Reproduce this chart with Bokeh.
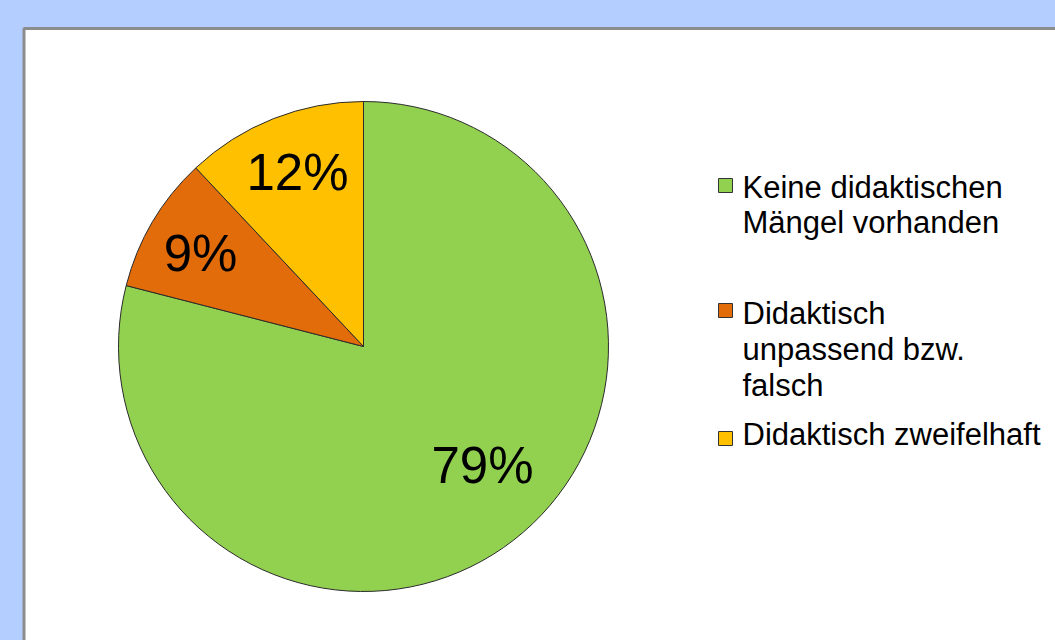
import math
from bokeh.plotting import figure
from bokeh.models import Range1d
from bokeh.core.properties import value
from bokeh.embed import file_html
from bokeh.resources import INLINE

# ---- data ----
categories = ["Keine didaktischen Mängel vorhanden",
              "Didaktisch unpassend bzw. falsch",
              "Didaktisch zweifelhaft"]
legend_lines = [["Keine didaktischen", "Mängel vorhanden"],
                ["Didaktisch", "unpassend bzw.", "falsch"],
                ["Didaktisch zweifelhaft"]]
shares = [79, 9, 12]
labels = ["79%", "9%", "12%"]
colors = ["#92D050", "#E26B0A", "#FFC000"]

W, H = 1055, 640
p = figure(width=W, height=H, output_backend="svg", toolbar_location=None,
           x_range=Range1d(0, W), y_range=Range1d(0, H),
           min_border=0, outline_line_color=None,
           background_fill_color="#B3CEFF", border_fill_color="#B3CEFF")
p.axis.visible = False
p.grid.visible = False

def Y(py):
    return H - py

# white chart panel with grey border
p.quad(left=[23.5], right=[1080], top=[Y(28)], bottom=[Y(680)],
       fill_color="white", line_color="#8C8C8C", line_width=3)

# pie
cx, cy, R = 363, Y(346), 245
total = sum(shares)
start = 90.0
starts, ends = [], []
for s in shares:
    end = start
    start = start - s / total * 360.0
    starts.append(math.radians(start))
    ends.append(math.radians(end))
p.wedge(x=[cx] * 3, y=[cy] * 3, radius=R, start_angle=starts, end_angle=ends,
        fill_color=colors, line_color="#2B2B2B", line_width=1)

# data labels
lx = [482, 200, 297]
lb = [465, 253, 172]
p.text(x=lx, y=[Y(v) for v in lb], text=labels, text_align="center",
       text_baseline="alphabetic", text_font=value("Liberation Sans"),
       text_font_size="51px", text_color="black")

# legend
sq_y = [185, 310, 438]
p.rect(x=[725] * 3, y=[Y(v) for v in sq_y], width=14, height=14,
       fill_color=colors, line_color="#333333", line_width=1)
baselines = [[187, 222], [313, 349, 385], [434]]
tx, ty, tt = [], [], []
for lines, bls in zip(legend_lines, baselines):
    for t, b in zip(lines, bls):
        tx.append(742)
        ty.append(Y(b))
        tt.append(t)
p.text(x=tx, y=ty, text=tt, text_align="left", text_baseline="alphabetic",
       text_font=value("Liberation Sans"), text_font_size="31px",
       text_color="black")

html = file_html(p, INLINE)
html = html.replace("<head>", "<head><style>html,body{background:#B3CEFF;overflow:hidden;}</style>", 1)
open("out.html", "w").write(html)
